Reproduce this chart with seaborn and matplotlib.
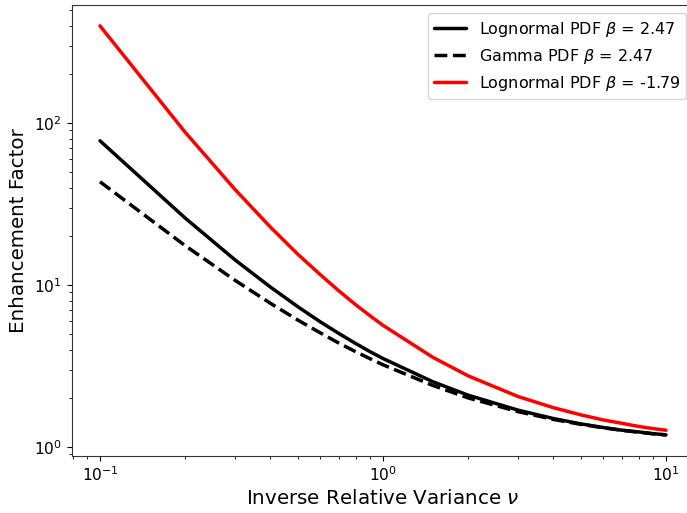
import numpy as np
import pandas as pd
import matplotlib
matplotlib.use("Agg")
import matplotlib.pyplot as plt
import seaborn as sns

# inverse relative variance nu
nu = [0.1, 0.2, 0.3, 0.4, 0.5, 0.6, 0.7, 0.8, 0.9, 1.0,
      1.5, 2, 3, 4, 5, 6, 7, 8, 9, 10]

# enhancement factors
lognorm_pos = [77.7, 25.9, 14.3, 9.72, 7.35, 5.93, 5.01, 4.36, 3.88, 3.52,
               2.53, 2.09, 1.69, 1.50, 1.39, 1.32, 1.27, 1.24, 1.21, 1.19]
gamma_pos = [43.4, 17.5, 10.69, 7.72, 6.08, 5.07, 4.37, 3.88, 3.51, 3.22,
             2.40, 2.01, 1.654, 1.481, 1.381, 1.315, 1.268, 1.234, 1.207, 1.186]
lognorm_neg = [398, 87.7, 38.9, 22.8, 15.5, 11.6, 9.17, 7.57, 6.46, 5.64,
               3.58, 2.75, 2.05, 1.75, 1.58, 1.47, 1.40, 1.34, 1.30, 1.27]

labels = [r"Lognormal PDF $\beta$ = 2.47",
          r"Gamma PDF $\beta$ = 2.47",
          r"Lognormal PDF $\beta$ = -1.79"]

sns.set_style("ticks", {"axes.edgecolor": "0.2", "text.color": "black",
                        "axes.labelcolor": "black", "xtick.color": "black",
                        "ytick.color": "black"})
plt.rcParams["font.family"] = ["DejaVu Sans"]

fig = plt.figure(figsize=(6.87, 5.13), dpi=100)
ax = fig.add_axes([71.7 / 687, (513 - 455.5) / 513, (694.3 - 71.7) / 687, (455.5 - 5.4) / 513])

df = pd.DataFrame({"nu": nu, "ln_pos": lognorm_pos, "g_pos": gamma_pos, "ln_neg": lognorm_neg})

sns.lineplot(data=df, x="nu", y="ln_pos", ax=ax, color="black", lw=2.5, label=labels[0])
sns.lineplot(data=df, x="nu", y="g_pos", ax=ax, color="black", lw=2.5, ls="--", label=labels[1])
sns.lineplot(data=df, x="nu", y="ln_neg", ax=ax, color="red", lw=2.5, label=labels[2])

ax.set_xscale("log")
ax.set_yscale("log")
ax.set_xlabel(r"Inverse Relative Variance $\nu$", fontsize=14.3)
ax.set_ylabel("Enhancement Factor", fontsize=14.3)
ax.tick_params(labelsize=11.2)
ax.legend(loc="upper right", fontsize=11.5)

fig.savefig("out.png", dpi=100)
